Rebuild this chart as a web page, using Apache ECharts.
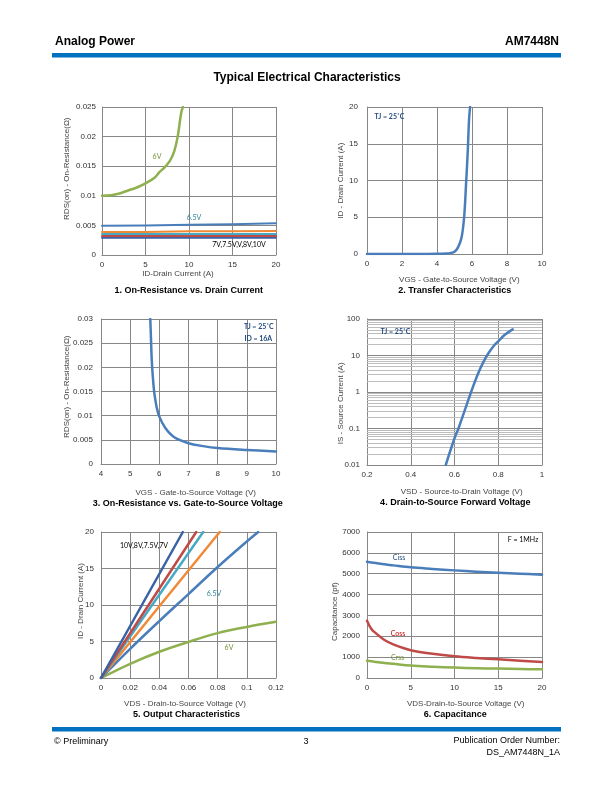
<!DOCTYPE html>
<html><head><meta charset="utf-8">
<script src="https://cdn.jsdelivr.net/npm/echarts@6/dist/echarts.min.js"></script>
<style>html,body{margin:0;padding:0;background:#fff}#c{width:612px;height:792px}</style>
</head><body><div id="c"></div>
<script>
// ---------- Chart 1: On-Resistance vs Drain Current ----------
const c1_x6V = [0, 1, 2, 3, 4, 5, 6, 6.6, 7.2, 7.8, 8.3, 8.7, 9.1, 9.3];
const c1_y6V = [0.0100, 0.0101, 0.0104, 0.0109, 0.0114, 0.0121, 0.0130, 0.0140, 0.0148, 0.0159, 0.0175, 0.0200, 0.0240, 0.0250];
const c1_xFlat = [0, 5, 10, 15, 20];
const c1_y65V = [0.00495, 0.0050, 0.0051, 0.0052, 0.00535];
const c1_y7V = [0.00389, 0.0039, 0.0040, 0.0040, 0.00405];
const c1_y75V = [0.00355, 0.00355, 0.00355, 0.00355, 0.00355];
const c1_y8V = [0.00321, 0.00321, 0.00321, 0.00321, 0.00321];
const c1_y10V = [0.00293, 0.00293, 0.00293, 0.00293, 0.00293];
// ---------- Chart 2: Transfer Characteristics ----------
const c2_vgs = [0, 1, 2, 3, 4, 4.5, 4.8, 5, 5.2, 5.4, 5.55, 5.66, 5.76, 5.83, 5.89];
const c2_id = [0, 0, 0, 0, 0.02, 0.06, 0.15, 0.3, 0.9, 2.2, 5, 9.5, 14.1, 18.2, 20];
// ---------- Chart 3: On-Resistance vs Gate-to-Source Voltage ----------
const c3_vgs = [5.69, 5.72, 5.74, 5.78, 5.82, 5.86, 5.91, 6, 6.2, 6.5, 7, 7.5, 8, 9, 10];
const c3_rds = [0.03, 0.0248, 0.0215, 0.0178, 0.0151, 0.0134, 0.0117, 0.0098, 0.0075, 0.0056, 0.0043, 0.0037, 0.0033, 0.0029, 0.0026];
// ---------- Chart 4: Drain-to-Source Forward Voltage ----------
const c4_vsd = [0.56, 0.6, 0.618, 0.65, 0.676, 0.706, 0.73, 0.755, 0.78, 0.8, 0.83, 0.866];
const c4_is = [0.01, 0.054, 0.1, 0.355, 1, 3, 6.3, 11.5, 18.5, 24.5, 37, 52];
const c4_minorGrid = [0.02,0.03,0.04,0.05,0.06,0.07,0.08,0.09,0.2,0.3,0.4,0.5,0.6,0.7,0.8,0.9,2,3,4,5,6,7,8,9,20,30,40,50,60,70,80,90];
// ---------- Chart 5: Output Characteristics ----------
const c5_x10V = [0, 0.0561]; const c5_y10V = [0, 20];
const c5_x8V = [0, 0.0653]; const c5_y8V = [0, 20];
const c5_x75V = [0, 0.0701]; const c5_y75V = [0, 20];
const c5_x7V = [0, 0.0814]; const c5_y7V = [0, 20];
const c5_x65V = [0, 0.02, 0.04, 0.06, 0.08, 0.1, 0.1078]; const c5_y65V = [0, 4.0, 7.8, 11.5, 15.2, 18.7, 20];
const c5_x6V = [0, 0.02, 0.04, 0.06, 0.08, 0.1, 0.12]; const c5_y6V = [0, 1.95, 3.6, 4.95, 6.15, 7.0, 7.7];
// ---------- Chart 6: Capacitance ----------
const c6_vds = [0, 0.5, 1, 2, 3, 5, 7.5, 10, 12.5, 15, 17.5, 20];
const c6_ciss = [5570, 5540, 5510, 5450, 5400, 5305, 5230, 5160, 5100, 5050, 5000, 4955];
const c6_coss = [2750, 2350, 2150, 1820, 1610, 1330, 1160, 1040, 960, 895, 830, 770];
const c6_crss = [830, 800, 770, 720, 680, 600, 545, 500, 470, 450, 430, 415];

const pairs = (xs, ys) => xs.map((v, i) => [v, ys[i]]);

const GRID = '#878787';
const LBL = {color: '#333', fontFamily: 'Liberation Sans', fontSize: 8, formatter: v => String(v)};
const grids = [
  {left: 102, top: 107, width: 174, height: 148},
  {left: 367, top: 107, width: 175, height: 147},
  {left: 101, top: 319, width: 175, height: 145},
  {left: 367, top: 319, width: 175, height: 146},
  {left: 101, top: 532, width: 175, height: 146},
  {left: 367, top: 532, width: 175, height: 146}
];
function vAxis(idx, min, max, interval, margin) {
  return {
    type: 'value', gridIndex: idx, min: min, max: max, interval: interval,
    axisLine: {show: true, lineStyle: {color: GRID, width: 1}},
    axisTick: {show: false},
    splitLine: {show: true, lineStyle: {color: GRID, width: 1}},
    axisLabel: Object.assign({margin: margin}, LBL)
  };
}
const xAxes = [
  vAxis(0, 0, 20, 5, 6),
  vAxis(1, 0, 10, 2, 6),
  vAxis(2, 4, 10, 1, 6),
  vAxis(3, 0.2, 1, 0.2, 6),
  vAxis(4, 0, 0.12, 0.02, 6),
  vAxis(5, 0, 20, 5, 6)
];
const yAxes = [
  vAxis(0, 0, 0.025, 0.005, 6),
  vAxis(1, 0, 20, 5, 9),
  vAxis(2, 0, 0.03, 0.005, 8),
  {type: 'log', gridIndex: 3, min: 0.01, max: 100, logBase: 10,
   axisLine: {show: true, lineStyle: {color: GRID, width: 1}},
   axisTick: {show: false},
   splitLine: {show: true, lineStyle: {color: GRID, width: 1}},
   axisLabel: Object.assign({margin: 7}, LBL)},
  vAxis(4, 0, 20, 5, 7),
  vAxis(5, 0, 7000, 1000, 7)
];
function line(idx, data, color, width, z, smooth) {
  return {type: 'line', xAxisIndex: idx, yAxisIndex: idx, data: data, showSymbol: false,
    smooth: smooth === undefined ? 0.35 : smooth, lineStyle: {color: color, width: width || 2.5, cap: 'round', join: 'round'},
    itemStyle: {color: color}, z: z || 3, clip: true, silent: true};
}
const BLUE = '#4A7EBB', DBLUE = '#3A62A4', RED = '#BE4B48', TEAL = '#46AAC5', ORANGE = '#F08A37', GREEN = '#8FB04E', OLIVE = '#77933C';
const series = [
  line(0, pairs(c1_xFlat, c1_y10V), DBLUE, 2, 3, false),
  line(0, pairs(c1_xFlat, c1_y8V), RED, 2, 3, false),
  line(0, pairs(c1_xFlat, c1_y75V), TEAL, 2, 3, false),
  line(0, pairs(c1_xFlat, c1_y7V), ORANGE, 2, 3, false),
  line(0, pairs(c1_xFlat, c1_y65V), BLUE, 2, 3, false),
  line(0, pairs(c1_x6V, c1_y6V), GREEN, 2.5),
  line(1, pairs(c2_vgs, c2_id), BLUE, 2.5),
  line(2, pairs(c3_vgs, c3_rds), BLUE, 2.5),
  {type: 'line', xAxisIndex: 3, yAxisIndex: 3, data: [], z: 1, silent: true,
   markLine: {silent: true, symbol: 'none', label: {show: false}, animation: false,
     lineStyle: {color: '#BDBDBD', type: 'solid', width: 1},
     data: c4_minorGrid.map(v => ({yAxis: v}))}},
  line(3, pairs(c4_vsd, c4_is), BLUE, 2.5, 5),
  line(4, pairs(c5_x6V, c5_y6V), GREEN, 2.5),
  line(4, pairs(c5_x65V, c5_y65V), BLUE, 2.5),
  line(4, pairs(c5_x7V, c5_y7V), ORANGE, 2.5, 3, false),
  line(4, pairs(c5_x75V, c5_y75V), TEAL, 2.5, 3, false),
  line(4, pairs(c5_x8V, c5_y8V), RED, 2.5, 3, false),
  line(4, pairs(c5_x10V, c5_y10V), DBLUE, 2.5, 3, false),
  line(5, pairs(c6_vds, c6_crss), GREEN, 2.5),
  line(5, pairs(c6_vds, c6_coss), RED, 2.5),
  line(5, pairs(c6_vds, c6_ciss), BLUE, 2.5)
];
function txt(x, y, s, font, fill, align, rot) {
  const o = {type: 'text', x: x, y: y, silent: true, z: 100,
    style: {text: s, font: font, fill: fill, align: align || 'center', verticalAlign: 'middle'}};
  if (rot) o.rotation = Math.PI / 2;
  return o;
}
const F_AX = '8px "Liberation Sans"';
const F_TI = 'bold 9px "Liberation Sans"';
const F_AN = '7px Lato';
const F_ANB = 'bold 7px Lato';
const AXC = '#444';
const graphic = [
  txt(55, 42, 'Analog Power', 'bold 12px "Liberation Sans"', '#000', 'left'),
  txt(559, 42, 'AM7448N', 'bold 12px "Liberation Sans"', '#000', 'right'),
  {type: 'rect', shape: {x: 52, y: 53, width: 509, height: 4.5}, style: {fill: '#0070C0'}, silent: true},
  txt(307, 77.5, 'Typical Electrical Characteristics', 'bold 12px "Liberation Sans"', '#000'),
  // axis names & chart titles
  txt(178, 273.5, 'ID-Drain Current (A)', F_AX, AXC),
  txt(188.7, 291, '1. On-Resistance vs. Drain Current', F_TI, '#000'),
  txt(66.7, 168.7, 'RDS(on) - On-Resistance(Ω)', F_AX, AXC, 'center', true),
  txt(459.3, 280, 'VGS - Gate-to-Source Voltage (V)', F_AX, AXC),
  txt(454.8, 290.7, '2. Transfer Characteristics', F_TI, '#000'),
  txt(340.7, 180.7, 'ID - Drain Current (A)', F_AX, AXC, 'center', true),
  txt(195.7, 492.3, 'VGS - Gate-to-Source Voltage (V)', F_AX, AXC),
  txt(187.8, 503.3, '3. On-Resistance vs. Gate-to-Source Voltage', F_TI, '#000'),
  txt(66.7, 386.7, 'RDS(on) - On-Resistance(Ω)', F_AX, AXC, 'center', true),
  txt(461.7, 491.7, 'VSD - Source-to-Drain Voltage (V)', F_AX, AXC),
  txt(455.3, 502.7, '4. Drain-to-Source Forward Voltage', F_TI, '#000'),
  txt(340.7, 403.3, 'IS - Source Current (A)', F_AX, AXC, 'center', true),
  txt(185, 703.3, 'VDS - Drain-to-Source Voltage (V)', F_AX, AXC),
  txt(186.6, 715, '5. Output Characteristics', F_TI, '#000'),
  txt(81, 601, 'ID - Drain Current (A)', F_AX, AXC, 'center', true),
  txt(465.7, 704, 'VDS-Drain-to-Source Voltage (V)', F_AX, AXC),
  txt(455.3, 715, '6. Capacitance', F_TI, '#000'),
  txt(335, 611.7, 'Capacitance (pf)', F_AX, AXC, 'center', true),
  // annotations
  txt(157, 156.7, '6V', F_AN, OLIVE),
  txt(194, 217.3, '6.5V', F_AN, '#31859C'),
  txt(239, 244.5, '7V,7.5V,V,8V,10V', F_AN, '#000'),
  txt(389.5, 116.7, 'TJ = 25˚C', F_ANB, '#1F497D'),
  txt(258.8, 326.7, 'TJ = 25˚C', F_ANB, '#1F497D'),
  txt(258.3, 338.3, 'ID = 16A', F_ANB, '#1F497D'),
  txt(395.5, 331.7, 'TJ = 25˚C', F_ANB, '#1F497D'),
  txt(144, 545.7, '10V,8V,7.5V,7V', F_AN, '#000'),
  txt(214, 593.3, '6.5V', F_AN, '#31859C'),
  txt(229, 647.3, '6V', F_AN, OLIVE),
  txt(399, 557.3, 'Ciss', F_AN, '#1F497D'),
  txt(398, 633.3, 'Coss', F_AN, '#C00000'),
  txt(397.5, 657.3, 'Crss', F_AN, OLIVE),
  txt(523, 540, 'F = 1MHz', F_AN, '#000'),
  // footer
  {type: 'rect', shape: {x: 52, y: 727, width: 509, height: 4.5}, style: {fill: '#0070C0'}, silent: true},
  txt(54, 741.5, '© Preliminary', '9px "Liberation Sans"', '#000', 'left'),
  txt(306, 741.5, '3', '9px "Liberation Sans"', '#000'),
  txt(560, 741, 'Publication Order Number:', '9px "Liberation Sans"', '#000', 'right'),
  txt(560, 752.5, 'DS_AM7448N_1A', '9px "Liberation Sans"', '#000', 'right')
];
const chart = echarts.init(document.getElementById('c'), null, {renderer: 'canvas'});
chart.setOption({
  animation: false,
  backgroundColor: '#fff',
  grid: grids,
  xAxis: xAxes,
  yAxis: yAxes,
  series: series,
  graphic: graphic
});
</script>
</body></html>
